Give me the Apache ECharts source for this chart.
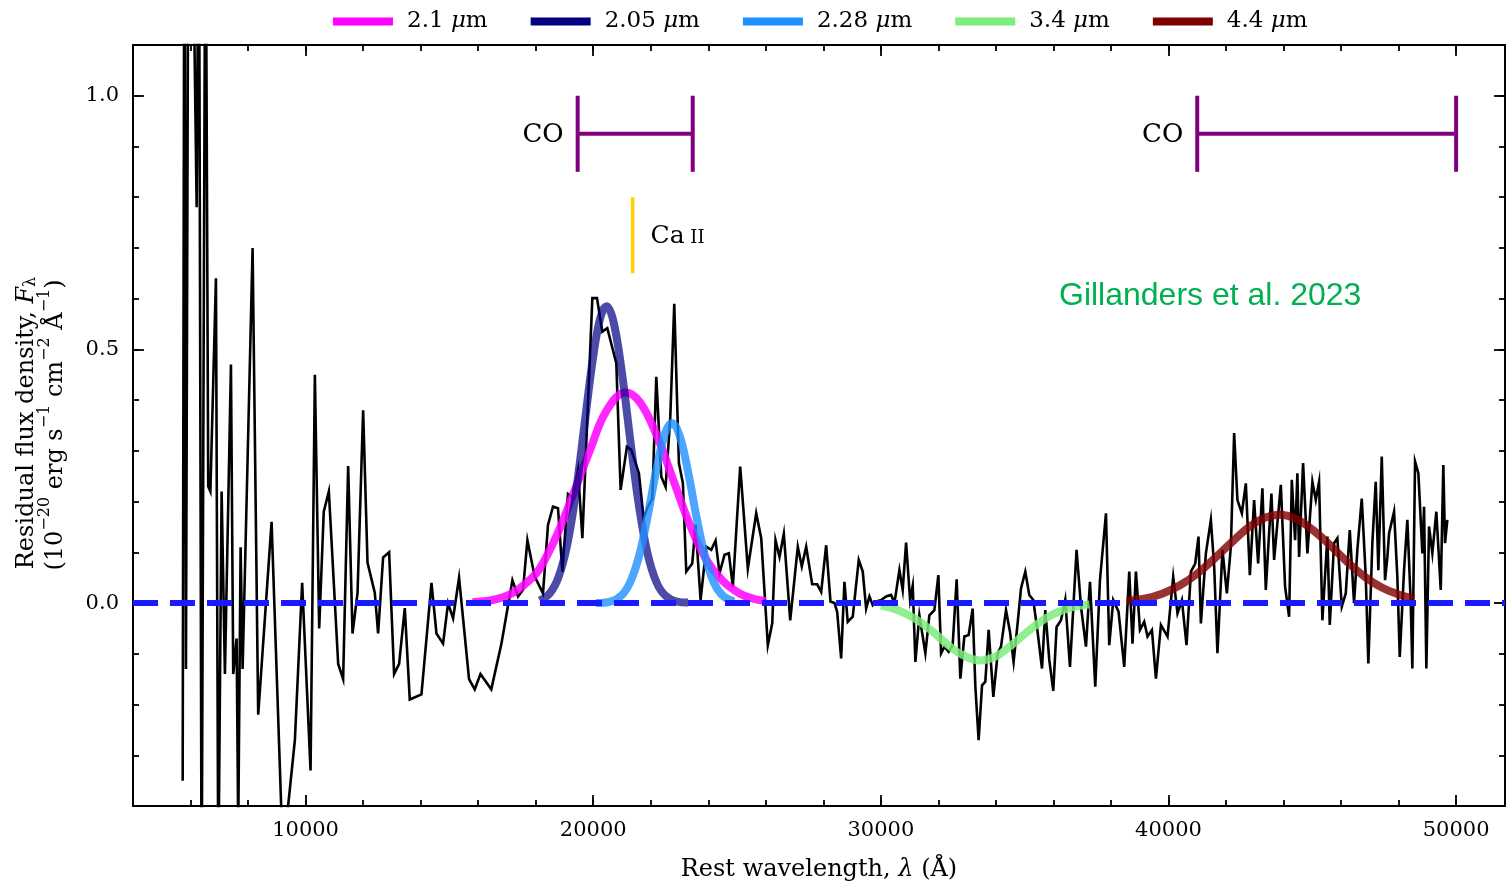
<!DOCTYPE html>
<html>
<head>
<meta charset="utf-8">
<script src="https://cdn.jsdelivr.net/npm/echarts@6/dist/echarts.min.js"></script>
<style>
  html, body { margin: 0; padding: 0; background: #fff; overflow: hidden; }
  #chart { width: 1506px; height: 881px; }
</style>
</head>
<body>
<div id="chart"></div>
<script>
// Residual spectrum: [rest wavelength (Å), flux density (1e-20 erg/s/cm2/Å)]
const spectrum = [
  [5727,-0.35],[5790,1.6],[5841,-0.13],[5930,1.5],[6080,1.35],[6213,0.78],[6290,1.5],[6386,-0.6],
  [6520,1.5],[6616,0.23],[6690,0.22],[6884,0.64],[6966,-0.55],[7081,0.22],[7196,-0.14],[7405,0.47],
  [7485,-0.14],[7602,-0.07],[7659,-0.45],[7741,0.11],[7811,-0.13],[8158,0.70],[8353,-0.22],[8818,0.16],
  [9211,-0.5],[9628,-0.27],[9881,0.04],[10173,-0.33],[10323,0.45],[10473,-0.05],[10632,0.18],[10809,0.22],
  [11134,-0.12],[11306,-0.15],[11480,0.27],[11632,-0.06],[11806,0.02],[12001,0.38],[12153,0.08],[12407,0.02],
  [12522,-0.06],[12696,0.09],[12904,0.10],[13078,-0.14],[13252,-0.12],[13449,-0.01],[13623,-0.19],[14029,-0.18],
  [14377,0.04],[14551,-0.06],[14780,-0.08],[14954,0.0],[15128,-0.03],[15336,0.05],[15683,-0.15],[15881,-0.17],
  [16080,-0.14],[16456,-0.17],[16809,-0.08],[17191,0.045],[17386,0.013],[17560,0.026],[17712,0.124],[17966,0.052],
  [18254,0.019],[18428,0.154],[18602,0.19],[18776,0.187],[18927,0.062],[19123,0.215],[19297,0.207],[19471,0.262],
  [19623,0.128],[19970,0.601],[20131,0.601],[20316,0.535],[20490,0.542],[20803,0.473],[20953,0.223],[21172,0.308],
  [21325,0.302],[21589,0.256],[21752,0.167],[21902,0.19],[22055,0.206],[22193,0.446],[22367,0.249],[22517,0.229],
  [22680,0.367],[22818,0.59],[22979,0.276],[23118,0.236],[23235,0.062],[23443,0.078],[23559,0.154],[23733,0.006],
  [23931,0.111],[24105,0.105],[24253,0.123],[24392,0.059],[24566,0.095],[24716,0.098],[24855,0.032],[25110,0.269],
  [25376,0.068],[25667,0.177],[25841,0.128],[26071,-0.083],[26224,-0.04],[26338,0.124],[26477,0.091],[26627,0.137],
  [26849,-0.034],[27113,0.111],[27252,0.072],[27404,0.111],[27613,0.037],[27787,0.037],[27926,0.022],[28099,0.114],
  [28249,0.003],[28388,0.0],[28481,-0.017],[28620,-0.109],[28734,0.042],[28849,-0.037],[29023,-0.027],[29232,0.085],
  [29371,0.062],[29489,-0.011],[29604,0.013],[29719,-0.004],[29836,0.003],[30010,0.006],[30184,0.013],[30357,0.016],
  [30472,0.0],[30646,0.065],[30760,0.026],[30878,0.119],[31017,0.006],[31108,0.034],[31201,-0.116],[31340,-0.024],
  [31548,-0.099],[31687,-0.024],[31861,-0.014],[32000,0.055],[32094,-0.099],[32209,-0.086],[32358,-0.096],[32497,-0.083],
  [32636,0.047],[32764,-0.149],[32903,-0.066],[33053,-0.063],[33192,-0.011],[33286,-0.165],[33400,-0.27],[33518,-0.162],
  [33633,-0.155],[33748,-0.053],[33911,-0.185],[34061,-0.099],[34178,-0.086],[34352,-0.014],[34491,-0.057],[34616,-0.116],
  [34755,-0.04],[34873,0.029],[35022,0.062],[35161,0.016],[35300,0.006],[35450,-0.057],[35603,-0.129],[35717,-0.014],
  [35856,-0.112],[35995,-0.173],[36110,-0.047],[36263,-0.034],[36412,0.007],[36575,-0.126],[36805,0.105],[36958,-0.007],
  [37132,-0.086],[37271,0.042],[37455,-0.165],[37618,0.045],[37827,0.177],[37941,-0.083],[38080,0.006],[38264,-0.017],
  [38462,-0.126],[38636,0.062],[38751,-0.08],[38869,0.062],[39008,-0.053],[39157,-0.037],[39272,-0.066],[39425,-0.053],
  [39564,-0.149],[39738,-0.043],[39967,-0.066],[40165,0.052],[40314,-0.02],[40467,0.006],[40627,-0.083],[40780,0.062],
  [40929,0.078],[41044,0.131],[41127,-0.04],[41301,0.098],[41474,0.164],[41589,0.072],[41703,-0.099],[41877,0.105],
  [42030,0.019],[42169,0.111],[42283,0.335],[42398,0.203],[42551,0.177],[42690,0.236],[42829,0.055],[42978,0.203],
  [43117,0.078],[43266,0.226],[43384,0.026],[43579,0.216],[43673,0.085],[43906,0.233],[44055,0.032],[44194,-0.027],
  [44288,0.243],[44402,0.124],[44482,0.256],[44541,0.091],[44680,0.276],[44830,0.098],[45004,0.239],[45122,0.203],
  [45236,0.239],[45351,-0.034],[45525,0.131],[45608,-0.043],[45757,0.118],[45872,0.128],[46025,-0.007],[46164,0.019],
  [46303,0.144],[46452,0.0],[46567,0.105],[46720,0.206],[46859,0.052],[46949,-0.119],[47088,0.118],[47206,0.239],
  [47297,0.065],[47415,0.289],[47530,0.045],[47610,0.09],[47669,0.137],[47843,0.18],[47957,0.052],[48041,-0.106],
  [48190,0.065],[48305,0.164],[48423,0.0],[48479,-0.129],[48573,0.279],[48688,0.256],[48827,0.098],[48886,0.19],
  [48966,-0.129],[49059,0.151],[49174,0.098],[49313,0.18],[49466,0.026],[49556,0.272],[49615,0.118],[49695,0.164]
];

// Gaussian line fits, sampled along each profile
const fit2100 = [
  [15800,0.002],[16500,0.006],[17200,0.020],[17800,0.046],[18140,0.068],[18720,0.132],[19300,0.214],
  [19880,0.300],[20450,0.378],[21130,0.415],[21620,0.396],[22190,0.333],[22770,0.245],[23350,0.156],
  [23930,0.086],[24500,0.044],[25090,0.019],[25600,0.008],[26000,0.004]
];
const fit2050 = [
  [18140,0.005],[18500,0.020],[18800,0.052],[19100,0.116],[19400,0.219],[19700,0.353],[20000,0.486],
  [20250,0.563],[20460,0.585],[20700,0.556],[21000,0.453],[21300,0.316],[21600,0.188],[21900,0.095],
  [22200,0.041],[22500,0.015],[22900,0.003],[23300,0.001]
];
const fit2280 = [
  [20100,0.000],[20600,0.003],[21000,0.016],[21300,0.043],[21600,0.094],[21900,0.173],[22200,0.264],
  [22500,0.335],[22740,0.355],[23000,0.331],[23300,0.258],[23600,0.167],[23900,0.090],[24200,0.040],
  [24500,0.015],[24900,0.003]
];
const fit3400 = [
  [30000,-0.005],[30600,-0.014],[31200,-0.031],[31800,-0.056],[32300,-0.081],[32800,-0.101],[33450,-0.113],
  [34000,-0.105],[34500,-0.085],[35000,-0.061],[35500,-0.039],[36000,-0.022],[36600,-0.009],[37250,-0.003]
];
const fit4400 = [
  [38550,0.004],[39200,0.009],[39800,0.019],[40400,0.035],[41000,0.058],[41600,0.088],[42200,0.120],
  [42800,0.150],[43350,0.168],[43850,0.174],[44400,0.167],[45000,0.145],[45600,0.115],[46200,0.082],
  [46800,0.053],[47400,0.031],[48000,0.017],[48550,0.009]
];

const fitNames  = ['2.1 μm', '2.05 μm', '2.28 μm', '3.4 μm', '4.4 μm'];
const fitData   = [fit2100, fit2050, fit2280, fit3400, fit4400];
const fitColors = ['#ff00ff', '#000080', '#1e90ff', '#7ded7d', '#800000'];
const fitAlpha  = [0.85, 0.7, 0.8, 0.85, 0.8];

// Zero level
const zeroLine = [[4000, 0], [51700, 0]];

// CO band ranges and Ca II marker
const coStart = [19460, 41000];
const coEnd   = [23460, 50000];
const coLevel = 0.925, coCapLow = 0.85, coCapHigh = 1.0;
const caWave = 21370, caLow = 0.65, caHigh = 0.80;

// Tick positions
const xMajor = [10000, 20000, 30000, 40000, 50000];
const xMinor = [4000,6000,8000,10000,12000,14000,16000,18000,20000,22000,24000,26000,28000,30000,
                32000,34000,36000,38000,40000,42000,44000,46000,48000,50000];
const yMajor = [0, 0.5, 1.0];
const yMinor = [-0.4,-0.3,-0.2,-0.1,0,0.1,0.2,0.3,0.4,0.5,0.6,0.7,0.8,0.9,1.0,1.1];

const SERIF = '"DejaVu Serif", serif';
const X_MIN = 4000, X_MAX = 51700, Y_MIN = -0.4, Y_MAX = 1.1;

function xAxisDef(pos, values, len, showLine, showLabel, extra) {
  return Object.assign({
    type: 'value', position: pos, min: X_MIN, max: X_MAX,
    axisLine: { show: showLine, onZero: false, lineStyle: { color: '#000', width: 2 } },
    axisTick: { show: true, inside: true, length: len, customValues: values, lineStyle: { color: '#000', width: 1.8 } },
    axisLabel: showLabel
      ? { show: true, customValues: values, margin: 14, fontFamily: SERIF, fontSize: 21, color: '#000', formatter: v => String(v) }
      : { show: false },
    splitLine: { show: false }
  }, extra || {});
}
function yAxisDef(pos, values, len, showLine, showLabel) {
  return {
    type: 'value', position: pos, min: Y_MIN, max: Y_MAX,
    axisLine: { show: showLine, onZero: false, lineStyle: { color: '#000', width: 2 } },
    axisTick: { show: true, inside: true, length: len, customValues: values, lineStyle: { color: '#000', width: 1.8 } },
    axisLabel: showLabel
      ? { show: true, customValues: values, margin: 14, fontFamily: SERIF, fontSize: 21, color: '#000', formatter: v => v.toFixed(1) }
      : { show: false },
    splitLine: { show: false }
  };
}

const chart = echarts.init(document.getElementById('chart'), null, { renderer: 'canvas' });

const fitSeries = fitData.map((d, i) => ({
  name: fitNames[i], type: 'line', data: d, smooth: 0.4, symbol: 'none', z: 3,
  itemStyle: { color: fitColors[i] },
  lineStyle: { color: fitColors[i], width: 8, opacity: fitAlpha[i], cap: 'butt' },
  emphasis: { disabled: true }, silent: true
}));

const supStyle = { fontFamily: SERIF, fontSize: 16, lineHeight: 15, verticalAlign: 'top', color: '#000' };
const baseStyle = { fontFamily: SERIF, fontSize: 24, lineHeight: 31, verticalAlign: 'bottom', color: '#000' };

chart.setOption({
  animation: false,
  backgroundColor: '#fff',
  grid: { left: 133, right: 1, top: 45, bottom: 75, containLabel: false, outerBoundsMode: 'none' },
  legend: {
    data: fitNames, left: 333, top: 10, padding: 0, icon: 'rect', itemWidth: 60, itemHeight: 8, itemGap: 43,
    selectedMode: false,
    itemStyle: { opacity: 1, borderWidth: 0 },
    textStyle: {
      fontFamily: SERIF, fontSize: 23, color: '#000', padding: [0, 0, 0, 9],
      rich: {
        n: { fontFamily: SERIF, fontSize: 23, color: '#000' },
        i: { fontFamily: SERIF, fontSize: 23, fontStyle: 'italic', color: '#000' }
      }
    },
    formatter: name => '{n|' + name.split(' ')[0] + ' }{i|μ}{n|m}'
  },
  xAxis: [
    xAxisDef('bottom', xMajor, 11, true, true, {
      name: '{n|Rest wavelength, }{i|λ}{n| (Å)}', nameLocation: 'middle', nameGap: 52,
      nameTextStyle: {
        rich: {
          n: { fontFamily: SERIF, fontSize: 24, color: '#000' },
          i: { fontFamily: SERIF, fontSize: 24, fontStyle: 'italic', color: '#000' }
        }
      }
    }),
    xAxisDef('bottom', xMinor, 6, false, false),
    xAxisDef('top', xMajor, 11, true, false),
    xAxisDef('top', xMinor, 6, false, false)
  ],
  yAxis: [
    yAxisDef('left', yMajor, 11, true, true),
    yAxisDef('left', yMinor, 6, false, false),
    yAxisDef('right', yMajor, 11, true, false),
    yAxisDef('right', yMinor, 6, false, false)
  ],
  graphic: [
    {
      type: 'text', x: 23, y: 423, rotation: Math.PI / 2, silent: true,
      style: {
        text: '{n|Residual flux density, }{i|F}{s|λ}',
        align: 'center', verticalAlign: 'middle',
        rich: {
          n: baseStyle,
          i: Object.assign({}, baseStyle, { fontStyle: 'italic' }),
          s: { fontFamily: SERIF, fontSize: 16, lineHeight: 14, verticalAlign: 'bottom', color: '#000' }
        }
      }
    },
    {
      type: 'text', x: 52, y: 425, rotation: Math.PI / 2, silent: true,
      style: {
        text: '{n|(10}{p|−20}{n| erg s}{p|−1}{n| cm}{p|−2}{n| Å}{p|−1}{n|)}',
        align: 'center', verticalAlign: 'middle',
        rich: { n: baseStyle, p: supStyle }
      }
    },
    {
      type: 'text', left: 1059, top: 280, silent: true,
      style: { text: 'Gillanders et al. 2023', font: '32px "Liberation Sans", Arial, sans-serif', fill: '#00b050' }
    }
  ],
  series: [
    {
      name: 'spectrum', type: 'line', data: spectrum, symbol: 'none', z: 2, clip: true,
      lineStyle: { color: '#000', width: 2.6, join: 'miter' }, silent: true
    },
    ...fitSeries,
    {
      name: 'zero', type: 'line', data: zeroLine, symbol: 'none', z: 5, silent: true,
      lineStyle: { color: '#1a1aff', width: 6, type: [25, 12] }
    },
    {
      name: 'CO', type: 'custom', z: 4, silent: true,
      data: coStart.map((s, i) => [s, coEnd[i], coLevel, coCapLow, coCapHigh]),
      encode: { x: [0, 1], y: [2, 3, 4] },
      renderItem: (params, api) => {
        const a = api.coord([api.value(0), api.value(2)]);
        const b = api.coord([api.value(1), api.value(2)]);
        const lo = api.coord([api.value(0), api.value(3)])[1];
        const hi = api.coord([api.value(0), api.value(4)])[1];
        const st = { stroke: '#800080', lineWidth: 4 };
        return {
          type: 'group',
          children: [
            { type: 'line', shape: { x1: a[0], y1: a[1], x2: b[0], y2: b[1] }, style: st },
            { type: 'line', shape: { x1: a[0], y1: lo, x2: a[0], y2: hi }, style: st },
            { type: 'line', shape: { x1: b[0], y1: lo, x2: b[0], y2: hi }, style: st },
            { type: 'text', x: a[0] - 14, y: a[1] + 1,
              style: { text: 'CO', align: 'right', verticalAlign: 'middle', font: '26px "DejaVu Serif", serif', fill: '#000' } }
          ]
        };
      }
    },
    {
      name: 'CaII', type: 'custom', z: 4, silent: true,
      data: [[caWave, caLow, caHigh]],
      encode: { x: 0, y: [1, 2] },
      renderItem: (params, api) => {
        const lo = api.coord([api.value(0), api.value(1)]);
        const hi = api.coord([api.value(0), api.value(2)]);
        return {
          type: 'group',
          children: [
            { type: 'line', shape: { x1: lo[0], y1: lo[1], x2: hi[0], y2: hi[1] }, style: { stroke: '#ffd000', lineWidth: 3.5 } },
            { type: 'text', x: lo[0] + 18, y: (lo[1] + hi[1]) / 2 + 1,
              style: {
                text: '{a|Ca}{b| II}', align: 'left', verticalAlign: 'middle',
                rich: {
                  a: { fontFamily: SERIF, fontSize: 25, verticalAlign: 'middle', color: '#000' },
                  b: { fontFamily: SERIF, fontSize: 18, verticalAlign: 'middle', padding: [4, 0, 0, 0], color: '#000' }
                }
              } }
          ]
        };
      }
    }
  ]
});
</script>
</body>
</html>
